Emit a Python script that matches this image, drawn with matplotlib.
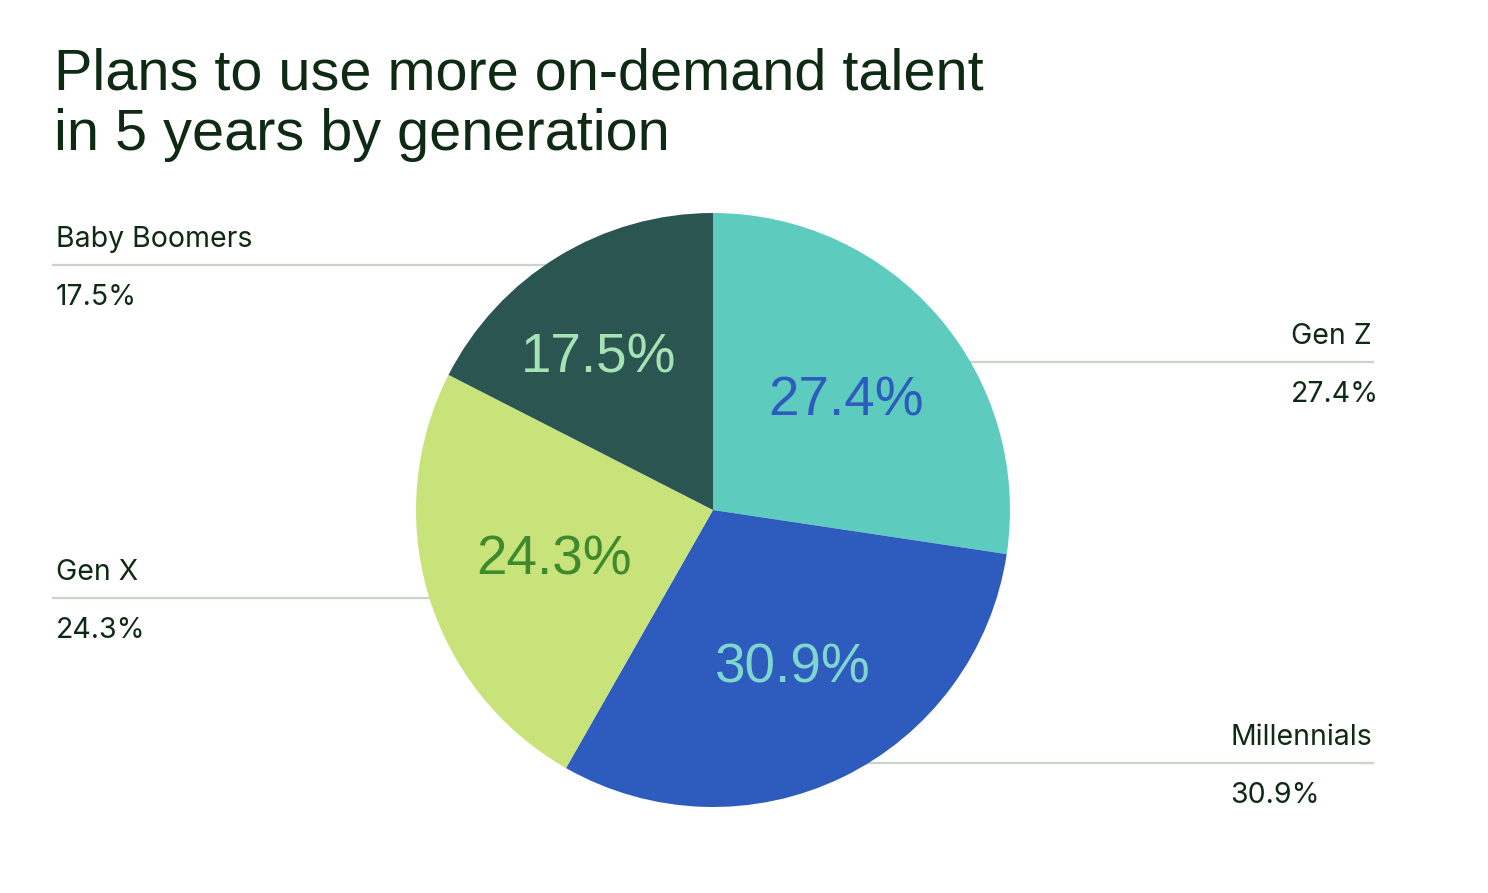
import numpy as np
import matplotlib
matplotlib.use("Agg")
import matplotlib.pyplot as plt
from matplotlib.lines import Line2D
from matplotlib.transforms import ScaledTranslation

categories = ["Gen Z", "Millennials", "Gen X", "Baby Boomers"]
values = [27.4, 30.9, 24.3, 17.5]
slice_colors = ["#5ECBBF", "#2D5BBE", "#C8E37A", "#2A5550"]
inner_text_colors = ["#2D5BBE", "#7FD6CD", "#3E8A2C", "#A6E3B4"]
title_lines = ["Plans to use more on-demand talent", "in 5 years by generation"]

TEXT = "#0F2A12"
LINE = "#C9D5C8"
LABEL_FONT = ["Inter", "DejaVu Sans"]
DISPLAY_FONT = ["Liberation Sans", "DejaVu Sans"]

W, H = 1488, 893
fig = plt.figure(figsize=(W / 100, H / 100), dpi=100)
fig.patch.set_facecolor("white")
renderer = fig.canvas.get_renderer()

def fx(px):
    return px / W

def fy(py):
    return 1 - py / H

# background axes in pixel coordinates (y down) for leader lines and text
bg = fig.add_axes([0, 0, 1, 1])
bg.set_xlim(0, W)
bg.set_ylim(H, 0)
bg.axis("off")

# pie axes
cx, cy, r = 713, 510, 297
pax = fig.add_axes([fx(cx - r), fy(cy + r), 2 * r / W, 2 * r / H])
pax.set_facecolor("none")
wedges, texts, autotexts = pax.pie(
    values, colors=slice_colors, startangle=90, counterclock=False,
    autopct=lambda p: "", pctdistance=0.6, radius=1.0,
    wedgeprops=dict(linewidth=0))
pax.set_xlim(-1, 1)
pax.set_ylim(-1, 1)
pax.set_aspect("equal")

# label placement per slice (fraction of radius, angle offset in degrees)
pct_dist = [0.59, 0.58, 0.555, 0.655]
ang_off = [0.0, 1.5, -1.0, 4.5]
PCT_SIZE = 39.5
shift = ScaledTranslation(0, -PCT_SIZE * 0.716 / 2 / 72, fig.dpi_scale_trans)
for at, w, v, c, d, a in zip(autotexts, wedges, values, inner_text_colors, pct_dist, ang_off):
    mid = np.deg2rad((w.theta1 + w.theta2) / 2 + a)
    at.set_position((d * np.cos(mid), d * np.sin(mid)))
    at.set_text(f"{v:.1f}%")
    at.set_color(c)
    at.set_fontsize(PCT_SIZE)
    at.set_family(DISPLAY_FONT)
    at.set_va("baseline")
    at.set_ha("center")
    at.set_transform(pax.transData + shift)

# outside labels: (anchor x, line y, line x0, line x1, side)
ext = {
    "Baby Boomers": (56, 265, 53, 713, "left"),
    "Gen X": (56, 598, 53, 713, "left"),
    "Gen Z": (1372, 362, 713, 1373, "right"),
    "Millennials": (1372, 763, 713, 1373, "right"),
}
LBL_SIZE = 20.5
for cat, v in zip(categories, values):
    tx, ly, x0, x1, side = ext[cat]
    bg.add_line(Line2D([x0, x1], [ly, ly], color=LINE, lw=1.6, zorder=1))
    t = bg.text(tx, ly - 18, cat, ha=side, va="baseline", fontsize=LBL_SIZE,
                color=TEXT, family=LABEL_FONT)
    vx = tx
    if side == "right":
        bb = t.get_window_extent(renderer)
        vx = bb.x0  # value left-aligned with the label's left edge
    bg.text(vx, ly + 40, f"{v:.1f}%", ha="left", va="baseline", fontsize=LBL_SIZE,
            color=TEXT, family=LABEL_FONT)

bg.text(54, 90, title_lines[0], ha="left", va="baseline",
        fontsize=41.5, color=TEXT, family=DISPLAY_FONT)
bg.text(54, 150, title_lines[1], ha="left", va="baseline",
        fontsize=41.5, color=TEXT, family=DISPLAY_FONT)

fig.savefig("out.png", dpi=100, facecolor="white")
